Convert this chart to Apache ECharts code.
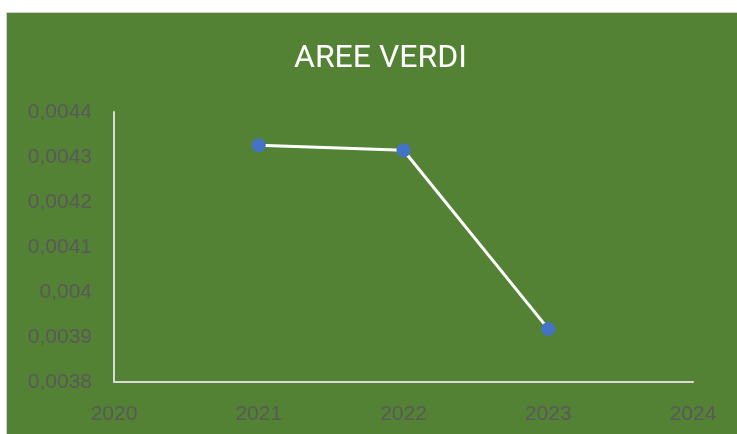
<!DOCTYPE html>
<html>
<head>
<meta charset="utf-8">
<script src="https://cdn.jsdelivr.net/npm/echarts@6/dist/echarts.min.js"></script>
<style>
  html, body { margin: 0; padding: 0; background: #ffffff; }
  .frame {
    position: absolute; left: 6px; top: 12px; width: 731px; height: 422px;
    background: #548235; border-left: 1px solid #d0d0d0; border-top: 1px solid #d0d0d0;
    box-sizing: border-box;
  }
  .main { position: absolute; left: 0; top: 0; width: 737px; height: 434px; }
</style>
</head>
<body>
<div class="frame"></div>
<div class="main"></div>
<script>
  var years = [2021, 2022, 2023];
  var values = [0.004326, 0.004315, 0.003918];
  var yTicks = [0.0038, 0.0044, 0.0001];   // min, max, step
  var xTicks = [2020, 2024, 1];

  var chart = echarts.init(document.querySelector('.main'));

  // 0.0043 -> "0,0043"
  function commaNum(v) {
    return parseFloat(v.toFixed(4)).toString().replace('.', ',');
  }

  var labelColor = '#595959';
  var axisColor = '#d9d9d9';

  var option = {
    animation: false,
    title: {
      text: 'AREE VERDI',
      left: 289,
      top: 38,
      textStyle: { color: '#ffffff', fontFamily: 'Roboto', fontWeight: 'normal', fontSize: 32 }
    },
    grid: { left: 114, top: 112, right: 44, bottom: 52 },
    xAxis: {
      type: 'value',
      min: xTicks[0], max: xTicks[1], interval: xTicks[2],
      axisLine: { lineStyle: { color: axisColor, width: 2 } },
      axisTick: { show: false },
      splitLine: { show: false },
      axisLabel: {
        color: labelColor, fontSize: 21, fontFamily: 'Liberation Sans', margin: 22,
        formatter: function(v) { return String(v); }
      }
    },
    yAxis: {
      type: 'value',
      min: yTicks[0], max: yTicks[1], interval: yTicks[2],
      axisLine: { show: true, lineStyle: { color: axisColor, width: 2 } },
      axisTick: { show: false },
      splitLine: { show: false },
      axisLabel: { color: labelColor, fontSize: 21, fontFamily: 'Liberation Sans', margin: 22, formatter: commaNum }
    },
    series: [{
      type: 'line',
      data: years.map(function(y, i) { return [y, values[i]]; }),
      lineStyle: { color: '#ffffff', width: 3 },
      symbol: 'circle',
      symbolSize: 14,
      itemStyle: { color: '#4472c4' }
    }]
  };

  chart.setOption(option);
</script>
</body>
</html>
